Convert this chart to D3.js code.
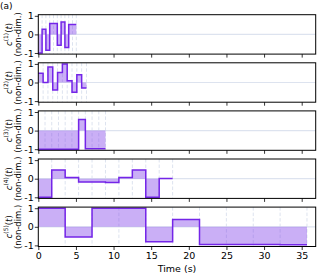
<!DOCTYPE html>
<html>
<head>
<meta charset="utf-8">
<script src="https://cdn.jsdelivr.net/npm/d3@7"></script>
<style>
  body { margin: 0; background: #fff; }
  text { font-family: "DejaVu Sans", sans-serif; }
</style>
</head>
<body>
<div class="chart"></div>
<script>
// segment lengths (s) for each coefficient c^(k)
const segDurations = [0.505, 0.64, 0.893, 1.785, 3.57];

// step values, 10 segments per panel
const c1 = [-1, 0.28, -0.85, 0.58, 0.58, -0.58, 0.67, -0.7, 0.53, 0.53];
const c2 = [0.5, 0.0, 0.83, -0.4, 0.54, 1.0, 0.09, -0.52, 0.42, -0.3];
const c3 = [-1, -1, -1, -1, -1, -1, 0.6, -0.97, -0.97, -0.97];
const c4 = [-1, 0.47, 0.07, -0.18, -0.18, -0.21, 0.07, 0.47, -1, 0.01];
const c5 = [1, -0.55, 1, 1, -0.81, 0.39, -0.95, -0.95, -0.95, -0.96];
const series = [c1, c2, c3, c4, c5];

const xTicks = [0, 5, 10, 15, 20, 25, 30, 35];
const yTicks = [-1, 0, 1];

const W = 319, H = 276;
const left = 38.3, right = 315.7;
const panelTop = 14.7, panelH = 39.4, panelStep = 48.1;

const lineColor = "#7425e8";
const fillColor = "#8040ea";
const gridColor = "#dde3ef";

var svg = d3.select(".chart")
            .append("svg")
            .attr("width", W)
            .attr("height", H);

var x = d3.scaleLinear().domain([0, 36.86]).range([left, right]);

svg.append("text")
   .attr("x", 0).attr("y", 9)
   .attr("font-size", 9)
   .text("(a)");

series.forEach((vals, k) => {
  const top = panelTop + k * panelStep;
  const y = d3.scaleLinear().domain([-1.06, 1.06]).range([top + panelH, top]);
  const dt = segDurations[k];

  // step points
  const pts = [];
  vals.forEach((v, i) => {
    pts.push([i * dt, v]);
    pts.push([(i + 1) * dt, v]);
  });

  const g = svg.append("g");

  // zero line
  g.append("line")
   .attr("x1", left).attr("x2", right)
   .attr("y1", y(0)).attr("y2", y(0))
   .attr("stroke", gridColor).attr("stroke-width", 1.2);

  // segment boundaries
  for (let i = 1; i <= vals.length; i++) {
    g.append("line")
     .attr("x1", x(i * dt)).attr("x2", x(i * dt))
     .attr("y1", top).attr("y2", top + panelH)
     .attr("stroke", gridColor).attr("stroke-width", 1)
     .attr("stroke-dasharray", "3.5,2");
  }

  // area between step and zero
  g.append("path")
   .datum(pts)
   .attr("d", d3.area().x(d => x(d[0])).y0(y(0)).y1(d => y(d[1])))
   .attr("fill", fillColor).attr("fill-opacity", 0.42);

  g.append("path")
   .datum(pts)
   .attr("d", d3.line().x(d => x(d[0])).y(d => y(d[1])))
   .attr("fill", "none")
   .attr("stroke", lineColor).attr("stroke-width", 1.5);

  // axes
  const ax = g.append("g")
    .attr("transform", `translate(0,${top + panelH})`)
    .call(d3.axisBottom(x).tickValues(xTicks).tickSize(3.5)
          .tickFormat(k === 4 ? d3.format("d") : ""));
  const ay = g.append("g")
    .attr("transform", `translate(${left},0)`)
    .call(d3.axisLeft(y).tickValues(yTicks).tickSize(3.5)
          .tickFormat(d => String(d)));
  [ax, ay].forEach(a => {
    a.select(".domain").remove();
    a.selectAll("line").attr("stroke", "#000").attr("stroke-width", 0.8);
    a.selectAll("text").attr("font-size", 9.5).attr("fill", "#000")
     .style("font-family", "DejaVu Sans, sans-serif");
  });
  ay.selectAll("text").attr("x", -4.5);
  ax.selectAll("text").attr("y", 6);

  // frame
  g.append("rect")
   .attr("x", left).attr("y", top)
   .attr("width", right - left).attr("height", panelH)
   .attr("fill", "none").attr("stroke", "#000").attr("stroke-width", 1);

  // y label
  const cy = top + panelH / 2;
  const lab = g.append("text")
    .attr("transform", `translate(11.5,${cy}) rotate(-90)`)
    .attr("text-anchor", "middle")
    .attr("font-size", 8.5);
  lab.append("tspan").attr("font-style", "italic").text("c");
  lab.append("tspan").attr("font-size", 6).attr("dy", -3.5).text(`(${k + 1})`);
  lab.append("tspan").attr("dy", 3.5).text("(");
  lab.append("tspan").attr("font-style", "italic").text("t");
  lab.append("tspan").text(")");
  g.append("text")
    .attr("transform", `translate(20.5,${cy}) rotate(-90)`)
    .attr("text-anchor", "middle")
    .attr("font-size", 8.5)
    .text("(non-dim.)");
});

svg.append("text")
   .attr("x", (left + right) / 2).attr("y", 272)
   .attr("text-anchor", "middle")
   .attr("font-size", 9.5)
   .text("Time (s)");
</script>
</body>
</html>
